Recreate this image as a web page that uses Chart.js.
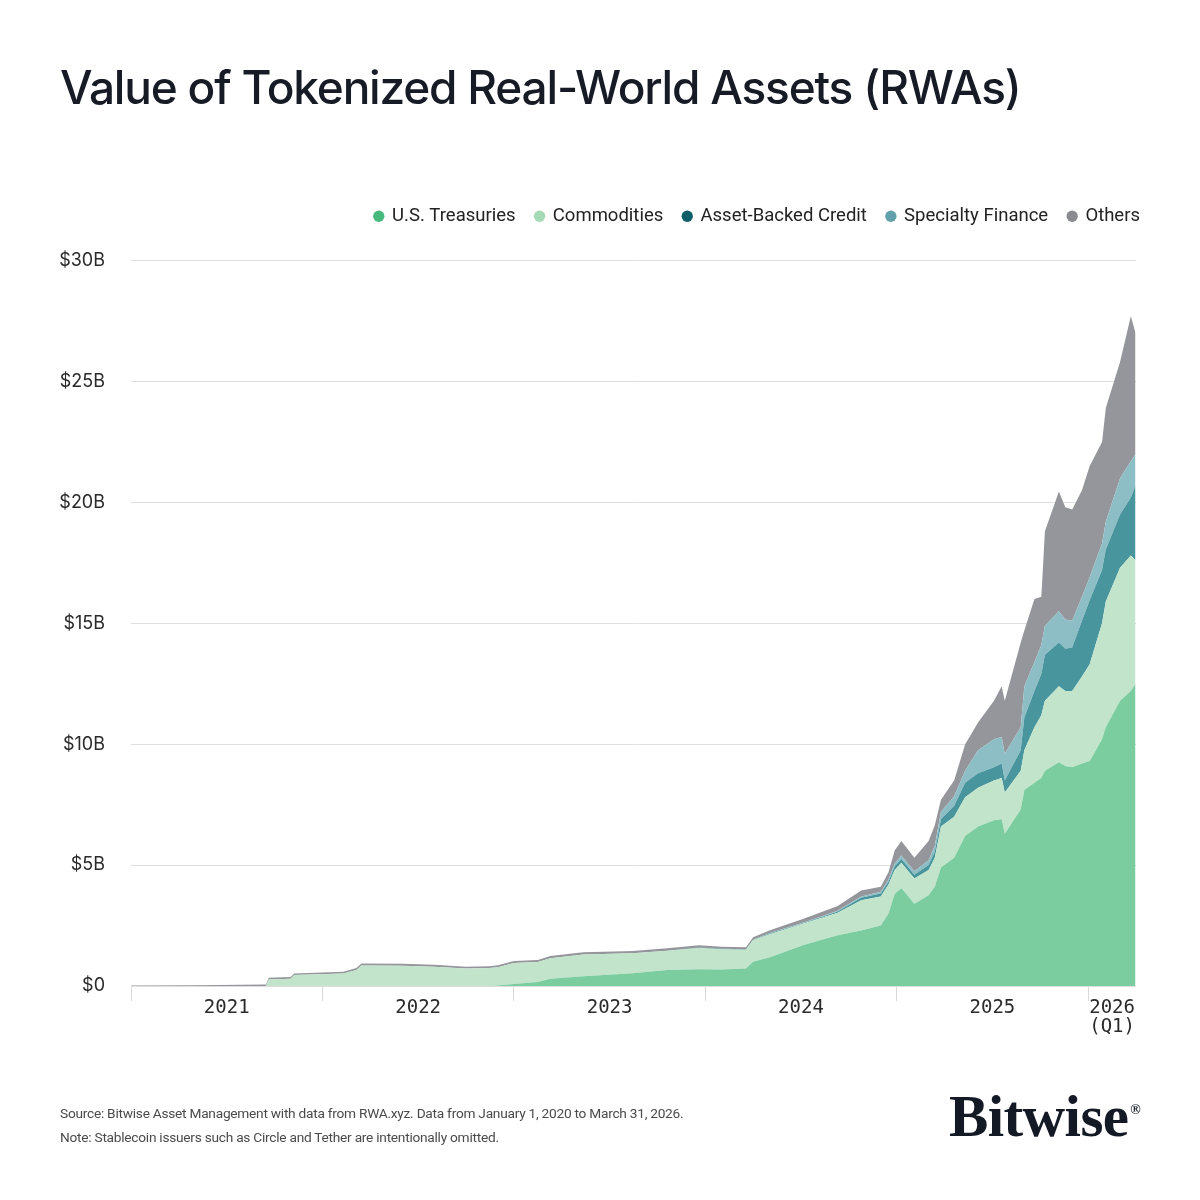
<!DOCTYPE html>
<html>
<head>
<meta charset="utf-8">
<script src="https://cdn.jsdelivr.net/npm/chart.js@4.4.1/dist/chart.umd.min.js"></script>
<style>
  body { margin: 0; background: #fff; }
  #wrap { position: relative; width: 1200px; height: 1200px; }
  #chart { position: absolute; left: 0; top: 0; }
  h1 { position: absolute; left: 60px; top: 59px; margin: 0; font: 500 46px 'Inter', sans-serif; letter-spacing: -1.2px; color: #161b26; }
  .foot { position: absolute; left: 60px; font: 13.7px 'Roboto', sans-serif; color: #4a4a4a; letter-spacing: -0.25px; }
  #logo { position: absolute; left: 949px; top: 1082px; font: bold 59px 'Liberation Serif', serif; letter-spacing: -0.6px; color: #141a25; }
  #logo sup { font-size: 14px; vertical-align: 22px; letter-spacing: 0; margin-left: 2px; }
</style>
</head>
<body>
<div id="wrap">
  <canvas id="chart" width="1200" height="1200"></canvas>
  <h1>Value of Tokenized Real-World Assets (RWAs)</h1>
  <div class="foot" style="top:1105px">Source: Bitwise Asset Management with data from RWA.xyz. Data from January 1, 2020 to March 31, 2026.</div>
  <div class="foot" style="top:1129px">Note: Stablecoin issuers such as Circle and Tether are intentionally omitted.</div>
  <div id="logo">Bitwise<sup>®</sup></div>
</div>
<script>
// 🔹 **Data (values in $B)**
const dates = [
  '2021-01-01', '2021-05-01', '2021-09-15', '2021-09-20', '2021-11-01', '2021-11-08',
  '2022-02-10', '2022-03-05', '2022-03-15', '2022-06-01', '2022-08-01', '2022-10-01',
  '2022-11-15', '2022-12-01', '2023-01-01', '2023-02-15', '2023-03-10', '2023-05-12',
  '2023-08-15', '2023-10-20', '2023-12-20', '2024-02-01', '2024-03-18', '2024-04-01',
  '2024-05-04', '2024-07-06', '2024-09-10', '2024-10-25', '2024-12-01', '2024-12-16',
  '2024-12-28', '2025-01-10', '2025-02-04', '2025-03-01', '2025-03-13', '2025-03-25',
  '2025-04-19', '2025-05-10', '2025-06-04', '2025-07-04', '2025-07-19', '2025-07-25',
  '2025-08-25', '2025-09-01', '2025-09-20', '2025-10-03', '2025-10-10', '2025-11-06',
  '2025-11-18', '2025-12-01', '2025-12-20', '2026-01-04', '2026-01-28', '2026-02-04',
  '2026-03-01', '2026-03-22', '2026-03-31'
];
const treasuries = [
  0, 0, 0, 0, 0, 0,
  0, 0, 0, 0, 0, 0,
  0, 0.02, 0.08, 0.17, 0.30, 0.40,
  0.53, 0.66, 0.69, 0.68, 0.72, 1.0,
  1.2, 1.7, 2.1, 2.3, 2.5, 3.0,
  3.8, 4.05, 3.4, 3.75, 4.1, 4.9,
  5.3, 6.2, 6.6, 6.85, 6.9, 6.3,
  7.3, 8.1, 8.4, 8.6, 8.9, 9.25,
  9.1, 9.05, 9.2, 9.3, 10.2, 10.7,
  11.8, 12.2, 12.5
];
const commodities = [
  0, 0, 0, 0.27, 0.30, 0.45,
  0.52, 0.66, 0.85, 0.84, 0.80, 0.72,
  0.74, 0.76, 0.87, 0.82, 0.85, 0.90,
  0.82, 0.80, 0.88, 0.84, 0.78, 0.90,
  0.95, 0.88, 0.93, 1.25, 1.2, 1.2,
  1.0, 1.05, 1.05, 1.05, 1.2, 1.7,
  1.7, 1.6, 1.6, 1.65, 1.7, 1.7,
  1.6, 1.65, 2.3, 2.6, 2.9, 3.15,
  3.1, 3.15, 3.6, 4.0, 4.8, 5.2,
  5.5, 5.6, 5.1
];
const assetBackedCredit = [
  0, 0, 0, 0, 0, 0,
  0, 0, 0, 0, 0, 0,
  0, 0, 0, 0, 0, 0,
  0, 0, 0.02, 0.02, 0.02, 0.02,
  0.03, 0.03, 0.05, 0.10, 0.12, 0.12,
  0.15, 0.15, 0.15, 0.20, 0.25, 0.30,
  0.45, 0.60, 0.60, 0.55, 0.60, 0.50,
  0.85, 1.35, 1.5, 1.7, 1.9, 1.8,
  1.75, 1.8, 2.3, 2.65, 2.2, 2.15,
  2.2, 2.4, 3.1
];
const specialtyFinance = [
  0, 0, 0, 0, 0, 0,
  0, 0, 0, 0, 0, 0,
  0, 0, 0, 0, 0, 0,
  0, 0, 0, 0, 0, 0,
  0.02, 0.02, 0.03, 0.05, 0.08, 0.08,
  0.10, 0.15, 0.15, 0.20, 0.25, 0.30,
  0.40, 0.50, 0.95, 1.15, 1.10, 1.10,
  0.95, 1.30, 1.2, 1.2, 1.2, 1.3,
  1.2, 1.1, 1.0, 0.95, 1.1, 1.15,
  1.5, 1.5, 1.3
];
const others = [
  0.02, 0.03, 0.06, 0.07, 0.07, 0.07,
  0.07, 0.08, 0.08, 0.08, 0.08, 0.08,
  0.08, 0.08, 0.08, 0.08, 0.09, 0.10,
  0.10, 0.10, 0.10, 0.08, 0.08, 0.10,
  0.12, 0.15, 0.20, 0.25, 0.20, 0.30,
  0.55, 0.60, 0.55, 0.80, 0.85, 0.50,
  0.65, 1.10, 1.15, 1.60, 2.10, 2.20,
  3.50, 2.30, 2.6, 2.0, 3.9, 4.95,
  4.65, 4.6, 4.4, 4.6, 4.2, 4.7,
  4.8, 6.0, 5.0
];

const seriesNames = ['U.S. Treasuries', 'Commodities', 'Asset-Backed Credit', 'Specialty Finance', 'Others'];
const areaColors = ['#7bcc9f', '#c1e4cb', '#48959d', '#8ebec5', '#95969b'];
const legendColors = ['#48b97d', '#a6dab7', '#0e5e69', '#5fa0ab', '#8a8b8f'];

const yearBounds = [0, 12, 24, 36, 48, 60];
const yearLabelPos = [6, 18, 30, 42, 54, 61.5];
const yearLabels = ['2021', '2022', '2023', '2024', '2025', ['2026', '(Q1)']];

// months since Jan 1, 2021
function monthIndex(d) {
    const [y, m, day] = d.split('-').map(Number);
    const dim = new Date(y, m, 0).getDate();
    return (y - 2021) * 12 + (m - 1) + (day - 1) / dim;
}
const xs = dates.map(monthIndex);
const toPoints = arr => arr.map((v, i) => ({ x: xs[i], y: v }));

const allSeries = [treasuries, commodities, assetBackedCredit, specialtyFinance, others];

// nudge legend up/right to sit like the original
const legendShift = {
    id: 'legendShift',
    afterLayout(chart) {
        const lg = chart.legend;
        lg.top -= 25; lg.bottom -= 25;
        lg.left += 24; lg.right += 24;
    }
};

new Chart(document.getElementById('chart'), {
    type: 'line',
    data: {
        datasets: allSeries.map((arr, i) => ({
            label: seriesNames[i],
            data: toPoints(arr),
            backgroundColor: areaColors[i],
            borderColor: areaColors[i],
            borderWidth: 0,
            pointRadius: 0,
            tension: 0,
            fill: i === 0 ? 'origin' : '-1'
        }))
    },
    options: {
        responsive: false,
        animation: false,
        layout: { padding: { top: 212, right: 64, bottom: 154, left: 0 } },
        plugins: {
            tooltip: { enabled: false },
            legend: {
                position: 'top',
                align: 'end',
                labels: {
                    usePointStyle: true,
                    pointStyle: 'circle',
                    boxWidth: 8,
                    boxHeight: 8,
                    padding: 20,
                    color: '#222',
                    font: { family: 'Roboto', size: 18.5 },
                    generateLabels(chart) {
                        const items = Chart.defaults.plugins.legend.labels.generateLabels(chart);
                        items.forEach((it, i) => {
                            it.fillStyle = legendColors[i];
                            it.strokeStyle = legendColors[i];
                            it.lineWidth = 0;
                        });
                        return items;
                    }
                }
            }
        },
        scales: {
            x: {
                type: 'linear',
                min: 0,
                max: 63,
                afterBuildTicks(scale) {
                    scale.ticks = yearBounds.concat(yearLabelPos).sort((a, b) => a - b).map(v => ({ value: v }));
                },
                afterFit(scale) { scale.height = 60; },
                border: { display: false },
                grid: {
                    drawOnChartArea: false,
                    tickLength: 15,
                    color: ctx => (ctx.tick && yearBounds.includes(ctx.tick.value)) ? '#d9d9d9' : 'rgba(0,0,0,0)'
                },
                ticks: {
                    autoSkip: false,
                    maxRotation: 0,
                    padding: -2,
                    color: '#2a2a2a',
                    font: { family: 'DejaVu Sans Mono', size: 19, lineHeight: 1.0 },
                    callback: v => {
                        const k = yearLabelPos.indexOf(v);
                        return k >= 0 ? yearLabels[k] : '';
                    }
                }
            },
            y: {
                stacked: true,
                min: 0,
                max: 30,
                afterFit(scale) { scale.width = 131; },
                border: { display: false },
                grid: { color: '#dedede', drawTicks: false },
                ticks: {
                    stepSize: 5,
                    padding: 26,
                    color: '#2a2a2a',
                    font: { family: 'Inter', size: 18 },
                    callback: v => '$' + v + (v === 0 ? '' : 'B')
                }
            }
        }
    },
    plugins: [legendShift]
});
</script>
</body>
</html>
